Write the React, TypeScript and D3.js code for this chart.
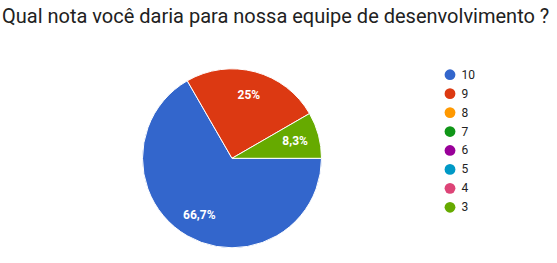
import React from "react";
import * as d3 from "d3";

const title = "Qual nota você daria para nossa equipe de desenvolvimento ?";
const categories = ["10", "9", "8", "7", "6", "5", "4", "3"];
const counts = [8, 3, 0, 0, 0, 0, 0, 1];
const percentLabels = ["66,7%", "25%", "", "", "", "", "", "8,3%"];
const colors = ["#3366cc", "#dc3912", "#ff9900", "#109618", "#990099", "#0099c6", "#dd4477", "#66aa00"];

export default function App() {
  const width = 557;
  const height = 263;
  const cx = 232;
  const cy = 158.3;
  const r = 89.5;
  const data = categories.map((c, i) => ({ c, v: counts[i], label: percentLabels[i], color: colors[i] }));
  const pie = d3
    .pie<any>()
    .sort(null)
    .value((d) => d.v)
    .startAngle(Math.PI / 2)
    .endAngle(Math.PI / 2 + 2 * Math.PI);
  const arcs = pie(data);
  const arc = d3.arc<any>().innerRadius(0).outerRadius(r);
  const labelArc = d3.arc<any>().innerRadius(r * 0.73).outerRadius(r * 0.73);
  const legendY = d3.scalePoint<string>().domain(categories).range([74.7, 207.3]);

  return (
    <svg width={width} height={height} style={{ position: "absolute", left: 0, top: 0 }}>
      <rect width={width} height={height} fill="#fff" />
      <text x={2} y={23} fontFamily="Roboto" fontSize={20} fill="#212121">
        {title}
      </text>
      <g transform={`translate(${cx},${cy})`}>
        {arcs
          .filter((a) => a.data.v > 0)
          .map((a, i) => (
            <path key={i} d={arc(a) as string} fill={a.data.color} stroke="#fff" strokeWidth={1} />
          ))}
        {arcs
          .filter((a) => a.data.v > 0)
          .map((a, i) => {
            const [x, y] = labelArc.centroid(a);
            return (
              <text
                key={"l" + i}
                x={x}
                y={y}
                textAnchor="middle"
                dominantBaseline="central"
                fontFamily="Roboto"
                fontSize={12}
                fontWeight="bold"
                fill="#fff"
              >
                {a.data.label}
              </text>
            );
          })}
      </g>
      {categories.map((c, i) => (
        <g key={c} transform={`translate(450,${legendY(c)})`}>
          <circle r={5.4} fill={colors[i]} />
          <text x={11.5} y={0} dominantBaseline="central" fontFamily="Roboto" fontSize={12} fill="#222">
            {c}
          </text>
        </g>
      ))}
    </svg>
  );
}
